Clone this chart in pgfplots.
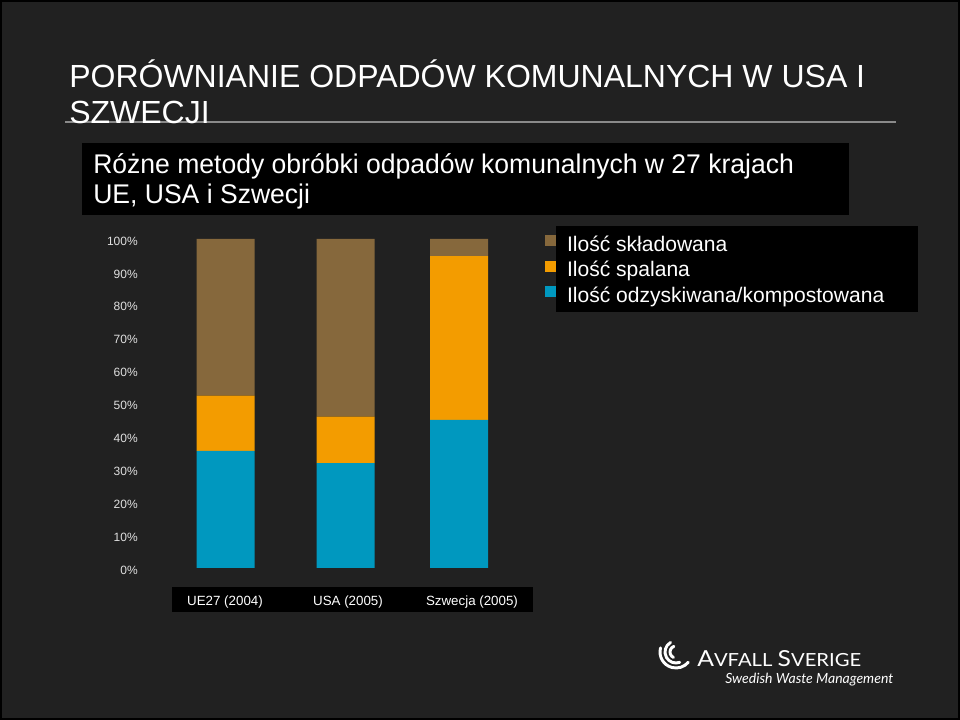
\documentclass[border=0pt]{standalone}
\usepackage{fontspec}
\setmainfont{Liberation Sans}
\newfontfamily\logofont{Lato}
\usepackage{pgfplots}
\pgfplotsset{compat=1.18}
\definecolor{bg}{HTML}{212121}
\definecolor{cbrown}{HTML}{86683C}
\definecolor{corange}{HTML}{F39C00}
\definecolor{cblue}{HTML}{0098BF}
\definecolor{tickgray}{HTML}{E0E0E0}
\definecolor{rulegray}{HTML}{8A8A8A}
\pgfplotsset{sqlegend/.style={legend image code/.code={\fill[##1] (0pt,-0.75pt) rectangle (8.25pt,7.5pt);}}}
\begin{document}
\begin{tikzpicture}[x=0.75pt,y=0.75pt]
\useasboundingbox (0,0) rectangle (960,720);
\fill[black] (0,0) rectangle (960,720);
\fill[bg] (2,2) rectangle (958,718);
% title
\draw[rulegray, line width=1.1pt] (65,598) -- (896,598);
\node[anchor=base west, inner sep=0pt, text=white, font=\fontsize{24}{28}\selectfont] at (69,632.7) {PORÓWNIANIE ODPADÓW KOMUNALNYCH W USA I};
\node[anchor=base west, inner sep=0pt, text=white, font=\fontsize{24}{28}\selectfont] at (69,596.7) {SZWECJI};
% subtitle
\fill[black] (82,577) rectangle (849,505);
\node[anchor=base west, inner sep=0pt, text=white, font=\fontsize{20.25}{24}\selectfont] at (93,546.7) {\scalebox{0.983}[1]{Różne metody obróbki odpadów komunalnych w 27 krajach}};
\node[anchor=base west, inner sep=0pt, text=white, font=\fontsize{20.25}{24}\selectfont] at (93,516.7) {\scalebox{0.983}[1]{UE, USA i Szwecji}};
% legend box and category box
\fill[black] (556,494) rectangle (918,408);
\fill[black] (172,133) rectangle (533,108);
% logo
\begin{scope}[white, line width=2.2pt, line cap=round]
\draw (676,68) ++(110:6) arc[start angle=110, end angle=245, radius=6];
\draw (676,68) ++(120:11) arc[start angle=120, end angle=290, radius=11];
\draw (676,68) ++(165:16) arc[start angle=165, end angle=320, radius=16];
\end{scope}
\node[anchor=base west, inner sep=0pt, text=white] at (697,53) {\resizebox{123pt}{12pt}{\logofont\fontsize{16.5}{18}\selectfont A\fontsize{13.5}{15}\selectfont VFALL\ \fontsize{16.5}{18}\selectfont S\fontsize{13.5}{15}\selectfont VERIGE}};
\node[anchor=base west, inner sep=0pt, text=white] at (725,36) {\resizebox{126pt}{!}{\logofont\itshape\fontsize{11.5}{13}\selectfont Swedish Waste Management}};
\begin{axis}[
  at={(105pt,114pt)}, anchor=south west,
  x=0.75pt, y=2.4675pt,
  xmin=140, xmax=540, ymin=0, ymax=100,
  axis line style={draw=none},
  ybar stacked, bar width=43.5pt,
  xtick={225,348,472},
  xticklabels={UE27 (2004), USA (2005), Szwecja (2005)},
  ytick={0,10,...,100},
  yticklabel={\pgfmathprintnumber{\tick}\%},
  major tick length=0pt,
  /pgf/number format/assume math mode=true,
  xticklabel style={anchor=base, inner sep=0pt, yshift=-28.5pt, text=white, font=\fontsize{10}{12}\selectfont},
  yticklabel style={anchor=east, inner sep=0pt, xshift=-1.5pt, yshift=-1.5pt, text=tickgray, font=\fontsize{9}{10}\selectfont},
  legend style={at={(1.0125,1.02)}, anchor=north west, draw=none, fill=none, inner sep=0pt, outer sep=0pt, column sep=8.25pt, row sep=0pt, font=\fontsize{15.8}{18}\selectfont, text=white, nodes={inner sep=0pt, text height=14pt, text depth=5.1pt}},
  legend cell align=left,
  reverse legend,
  clip=false,
]
\addplot[fill=cblue, draw=none, sqlegend] coordinates {(225.5,35.6) (345.5,31.9) (459,45.0)};
\addplot[fill=corange, draw=none, sqlegend] coordinates {(225.5,16.8) (345.5,14.1) (459,49.8)};
\addplot[fill=cbrown, draw=none, sqlegend] coordinates {(225.5,47.6) (345.5,54.0) (459,5.2)};
\legend{Ilość odzyskiwana/kompostowana, Ilość spalana, Ilość składowana}
\end{axis}
\end{tikzpicture}
\end{document}
